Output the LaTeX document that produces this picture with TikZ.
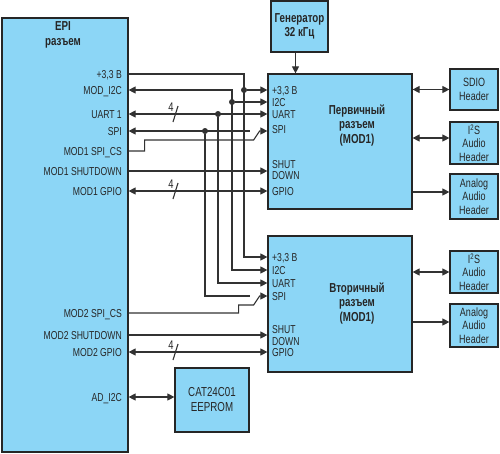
\documentclass[tikz,border=0pt]{standalone}
\usepackage{fontspec}
\setmainfont{Liberation Sans}[FakeStretch=0.75]
\usepackage{tikz}
\usetikzlibrary{arrows.meta}
\usetikzlibrary{positioning}

\definecolor{boxblue}{RGB}{140,214,246}
\definecolor{wirecol}{RGB}{50,50,50}

\begin{document}
\begin{tikzpicture}[x=1pt,y=-1pt,
  block/.style={draw=black!85,line width=1.2pt,fill=boxblue,inner sep=0pt},
  title/.style={align=center,font=\bfseries\fontsize{13}{14.5}\selectfont,inner sep=0pt,text=black!85},
  hdr/.style={block,minimum width=48pt,align=center,font=\fontsize{12}{13.5}\selectfont,text=black!85},
  port/.style={inner sep=0pt,text height=8.2pt,text depth=0pt,font=\fontsize{11.5}{11.5}\selectfont,text=black!85},
  dot/.style={circle,fill=wirecol,inner sep=0pt,minimum size=6pt},
  conn/.style={draw=wirecol,line width=1.1pt},
  >={Triangle[length=7pt,width=7pt]}]
  \useasboundingbox (0,0) rectangle (500,453);

  \node[block,minimum width=126pt,minimum height=434pt] (epi) at (65,235) {};
  \node[title] (epititle) at (63,35) {EPI\\разъем};
  \node[block,title,minimum width=57pt,minimum height=51pt] (gen) at (299.5,26.5) {Генератор\\32 кГц};
  \node[block,minimum width=144pt,minimum height=135pt] (mod1) at (340,141.5) {};
  \node[title] (mod1title) at (357,125.5) {Первичный\\разъем\\(MOD1)};
  \node[block,minimum width=144pt,minimum height=136pt] (mod2) at (340,304) {};
  \node[title] (mod2title) at (357,303.5) {Вторичный\\разъем\\(MOD1)};
  \node[block,align=center,minimum width=74pt,minimum height=64pt,font=\fontsize{13}{15}\selectfont,text=black!85] (eeprom) at (212,400) {CAT24C01\\EEPROM};

  \node[hdr,minimum height=41pt] (sdio) at (474,89.5) {SDIO\\Header};
  \node[hdr,minimum height=42pt] (iis1) at (474,143) {I\textsuperscript{2}S\\Audio\\Header};
  \node[hdr,minimum height=45pt] (ana1) at (474,196.5) {Analog\\Audio\\Header};
  \node[hdr,minimum height=42pt] (iis2) at (474,272) {I\textsuperscript{2}S\\Audio\\Header};
  \node[hdr,minimum height=43pt] (ana2) at (474,325.5) {Analog\\Audio\\Header};

  % EPI side
  \node[port,anchor=east] (e33) at (122,74) {+3,3 В};
  \node[port,anchor=east] (ei2c) at (122,90) {MOD\_I2C};
  \node[port,anchor=east] (euart) at (122,114) {UART 1};
  \node[port,anchor=east] (espi) at (122,131) {SPI};
  \node[port,anchor=east] (ecs1) at (122,151) {MOD1 SPI\_CS};
  \node[port,anchor=east] (esd1) at (122,171) {MOD1 SHUTDOWN};
  \node[port,anchor=east] (egp1) at (122,191) {MOD1 GPIO};
  \node[port,anchor=east] (ecs2) at (122,313) {MOD2 SPI\_CS};
  \node[port,anchor=east] (esd2) at (122,335) {MOD2 SHUTDOWN};
  \node[port,anchor=east] (egp2) at (122,352) {MOD2 GPIO};
  \node[port,anchor=east] (ead) at (122,397) {AD\_I2C};

  % module side
  \node[port,anchor=west] (a33) at (272,90) {+3,3 В};
  \node[port,anchor=west] (ai2c) at (272,102) {I2C};
  \node[port,anchor=west] (auart) at (272,114) {UART};
  \node[port,anchor=west] (aspi) at (272,129) {SPI};
  \node[port,anchor=west] (ashut) at (272,164) {SHUT};
  \node[port,anchor=west] (adown) at (272,175) {DOWN};
  \node[port,anchor=west] (agpio) at (272,191) {GPIO};
  \node[port,anchor=west] (b33) at (272,257) {+3,3 В};
  \node[port,anchor=west] (bi2c) at (272,270) {I2C};
  \node[port,anchor=west] (buart) at (272,283) {UART};
  \node[port,anchor=west] (bspi) at (272,296) {SPI};
  \node[port,anchor=west] (bshut) at (272,329) {SHUT};
  \node[port,anchor=west] (bdown) at (272,341) {DOWN};
  \node[port,anchor=west] (bgpio) at (272,352) {GPIO};

  \coordinate (x33) at (244,0);
  \coordinate (xi2c) at (232,0);
  \coordinate (xuart) at (218,0);
  \coordinate (xspi) at (205,0);
  \coordinate (sw1) at ([xshift=-17pt]mod1.west |- espi);
  \coordinate (sw2) at ([xshift=-17pt]mod2.west |- bspi);

  \draw[conn,->] (epi.east |- e33) -| (x33 |- b33) -- (mod2.west |- b33);
  \node[dot] (d33) at (x33 |- a33) {};
  \draw[conn,->] (d33) -- (mod1.west |- a33);

  \draw[conn,<->] (epi.east |- ei2c) -| (xi2c |- bi2c) -- (mod2.west |- bi2c);
  \node[dot] (di2c) at (xi2c |- ai2c) {};
  \draw[conn,->] (di2c) -- (mod1.west |- ai2c);

  \draw[conn,<->] (epi.east |- euart) -- (mod1.west |- euart);
  \node[dot] (duart) at (xuart |- euart) {};
  \draw[conn,->] (duart) |- (mod2.west |- buart);

  \draw[conn,<-] (epi.east |- espi) -- (sw1);
  \node[dot] (dspi) at (xspi |- espi) {};
  \draw[conn] (dspi) |- (sw2);

  \draw[conn,->] (epi.east |- ecs1) -- ++(16,0) -- ++(0,-11) -- ++(109,0) -- ++(6,-9) -- (mod1.west |- espi);
  \draw[conn,->] (epi.east |- ecs2) -- ++(110,0) -- ++(0,-8) -- ++(15,0) -- ++(6,-9) -- (mod2.west |- bspi);

  \draw[conn,->] (epi.east |- esd1) -- (mod1.west |- esd1);
  \draw[conn,<->] (epi.east |- egp1) -- (mod1.west |- egp1);
  \draw[conn,->] (epi.east |- esd2) -- (mod2.west |- esd2);
  \draw[conn,<->] (epi.east |- egp2) -- (mod2.west |- egp2);
  \draw[conn,<->] (epi.east |- ead) -- (eeprom.west |- ead);

  \foreach \y/\n in {114/1,191/2,352/3} {
    \node[port,font=\fontsize{12.5}{12.5}\selectfont] (w\n) at (171,\y-6.5) {4};
    \draw[conn] (173,\y+8) -- (178,\y-8);
  }

  \draw[conn,->] ([xshift=-4pt]gen.south) -- ([xshift=-4pt]gen.south |- mod1.north);

  % headers
  \coordinate (hi1) at ([yshift=5pt]iis1.west);
  \coordinate (ha1) at ([yshift=4.5pt]ana1.west);
  \coordinate (ha2) at ([yshift=3.5pt]ana2.west);
  \draw[conn,<->] (mod1.east |- sdio) -- (sdio.west);
  \draw[conn,<->] (mod1.east |- hi1) -- (hi1);
  \draw[conn,->] (mod1.east |- ha1) -- (ha1);
  \draw[conn,<->] (mod2.east |- iis2) -- (iis2.west);
  \draw[conn,->] (mod2.east |- ha2) -- (ha2);
\end{tikzpicture}
\end{document}
